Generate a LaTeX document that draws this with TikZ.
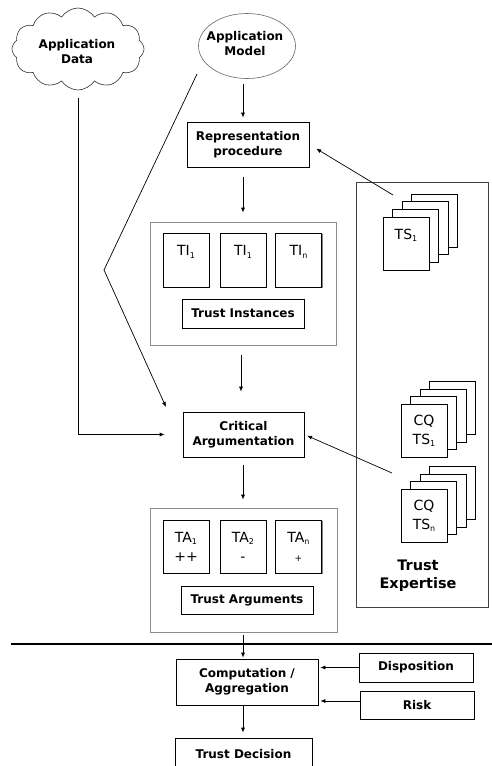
\documentclass[tikz,border=0pt]{standalone}
\usepackage{fontspec}
\setmainfont{DejaVu Sans}
\usetikzlibrary{arrows.meta,shapes.geometric,shapes.symbols,shadows}
\newcommand\bfnt{\fontsize{12}{15}\selectfont\bfseries}
\newcommand\efnt{\fontsize{14.5}{18}\selectfont\bfseries}
\newcommand\rfnt{\fontsize{14}{19}\selectfont}
\newcommand\sbx[1]{\raisebox{-0.3ex}{\fontsize{8}{8}\selectfont #1}}
\tikzset{
  bx/.style={draw=black, line width=0.7pt, fill=white,
    drop shadow={shadow xshift=1.3pt, shadow yshift=-1.3pt, fill=black!60, opacity=0.8},
    inner sep=0pt, align=center, font=\bfnt},
  outerbox/.style={draw=black!45, line width=0.7pt, fill=white, inner sep=0pt},
  pg/.style={draw=black, line width=0.6pt, fill=white, minimum width=46pt,
    minimum height=53pt, inner sep=0pt, align=center, font=\rfnt},
  arr/.style={-{Latex[length=5pt,width=4pt]}, line width=0.7pt},
  lbl/.style={align=center, inner sep=0pt},
}
\begin{document}
\begin{tikzpicture}[x=1pt,y=-1pt]
\useasboundingbox (0,0) rectangle (492,766);
\fill[white] (0,0) rectangle (492,766);
\coordinate (ax) at (243,0);
\coordinate (axb) at (241,0);

% top sources
\node[cloud, cloud puffs=12, cloud puff arc=115, aspect=1.6, draw=black!80,
  line width=0.6pt, minimum width=132pt, minimum height=82pt, inner sep=0pt] (data) at (78,49) {};
\node[lbl, font=\bfnt] (datalab) at (77,52) {Application\\Data};
\node[ellipse, draw=black!60, line width=0.6pt, minimum width=97pt,
  minimum height=65pt, inner sep=0pt] (model) at (247,46) {};
\node[lbl, font=\bfnt] (modellab) at (245,44) {Application\\Model};

% representation
\node[bx, minimum width=122pt, minimum height=45pt] (rep) at (248,144.5) {Representation\\procedure};

% trust instances
\node[outerbox, minimum width=186pt, minimum height=123pt] (tio) at (243,283.5) {};
\node[bx, minimum width=46pt, minimum height=54pt] (ti1) at (186,260) {};
\node[bx, minimum width=46pt, minimum height=54pt] (ti2) at (243,260) {};
\node[bx, minimum width=46pt, minimum height=54pt] (tin) at (298.5,260) {};
\node[lbl, font=\rfnt] at ([yshift=8pt]ti1.center) {TI\sbx{1}};
\node[lbl, font=\rfnt] at ([yshift=8pt]ti2.center) {TI\sbx{1}};
\node[lbl, font=\rfnt] at ([yshift=8pt]tin.center) {TI\sbx{n}};
\node[bx, minimum width=122pt, minimum height=29pt] (til) at (243,313.5) {Trust Instances};

% critical argumentation
\node[bx, minimum width=121pt, minimum height=45pt] (crit) at (243.5,434.5) {Critical\\Argumentation};

% trust arguments
\node[outerbox, minimum width=187pt, minimum height=124pt] (tao) at (243.5,570) {};
\node[bx, minimum width=46pt, minimum height=53pt, font=\rfnt] (ta1) at (186,546.5) {TA\sbx{1}\\++};
\node[bx, minimum width=46pt, minimum height=53pt, font=\rfnt] (ta2) at (243,546.5) {TA\sbx{2}\\-};
\node[bx, minimum width=46pt, minimum height=53pt, font=\rfnt] (tan) at (298.5,546.5) {TA\sbx{n}\\{\fontsize{9}{9}\selectfont +}};
\node[bx, minimum width=132pt, minimum height=28pt] (tal) at (247,600) {Trust Arguments};

% trust expertise
\node[draw=black!75, line width=0.8pt, fill=white, minimum width=132pt,
  minimum height=425pt, inner sep=0pt] (exp) at (422,394.5) {};
\node[lbl, font=\efnt] (explab) at (418,576) {Trust\\Expertise};

\foreach \k in {3,2,1} \node[pg] (tsb\k) at (406+9.5*\k, 243.5-7.7*\k) {};
\node[pg] (ts1) at (406,243.5) {};
\node[lbl, font=\rfnt] at ([yshift=8pt]ts1.center) {TS\sbx{1}};

\foreach \k in {3,2,1} \node[pg] (cqb\k) at (424+9.5*\k, 430.5-7.5*\k) {};
\node[pg] (cq1) at (424,430.5) {CQ\\TS\sbx{1}};

\foreach \k in {3,2,1} \node[pg] (cqnb\k) at (424+9.5*\k, 515.5-7.5*\k) {};
\node[pg] (cqn) at (424,515.5) {CQ\\TS\sbx{n}};

% bottom part
\coordinate (hl) at (11,644);
\coordinate (hr) at (492,644);
\draw[line width=2pt] (hl) -- (hr);
\node[bx, minimum width=142pt, minimum height=46pt] (comp) at (247,682) {Computation /\\Aggregation};
\node[bx, minimum width=114pt, minimum height=29pt] (disp) at (416,667.5) {Disposition};
\node[bx, minimum width=114pt, minimum height=28pt] (risk) at (417,705) {Risk};
\node[bx, minimum width=137pt, minimum height=32pt] (dec) at (243.5,754) {Trust Decision};

% connectors
\draw[arr, shorten <=5pt, shorten >=4pt] (model.south -| ax) -- (rep.north -| ax);
\draw[arr, shorten <=10pt, shorten >=9pt] (rep.south -| ax) -- (tio.north -| ax);
\draw[arr, shorten <=10pt, shorten >=20pt] (tio.south -| axb) -- (crit.north -| axb);
\draw[arr, shorten <=8pt, shorten >=8pt] (crit.south -| ax) -- (tao.north -| ax);
\draw[arr, shorten <=3pt, shorten >=1pt] (tao.south -| ax) -- (comp.north -| ax);
\draw[arr, shorten >=5pt] (comp.south -| ax) -- (dec.north -| ax);
\draw[arr, shorten >=2pt] (disp.west) -- (disp.west -| comp.east);
\draw[arr, shorten >=2pt] ([yshift=4pt]risk.west) -- ([yshift=4pt]risk.west -| comp.east);

\draw[arr, shorten <=8pt, shorten >=18pt] (data.south) |- (crit.west);
\coordinate (m1) at (197,74);
\coordinate (m2) at (104,270);
\coordinate (m3) at (166,407);
\draw[arr] (m1) -- (m2) -- (m3);

\coordinate (tsa) at (393,195);
\draw[arr, shorten >=8pt] (tsa) -- (rep.east);
\coordinate (cqa) at (392,473);
\draw[arr, shorten >=3pt] (cqa) -- (crit.east);
\end{tikzpicture}
\end{document}
